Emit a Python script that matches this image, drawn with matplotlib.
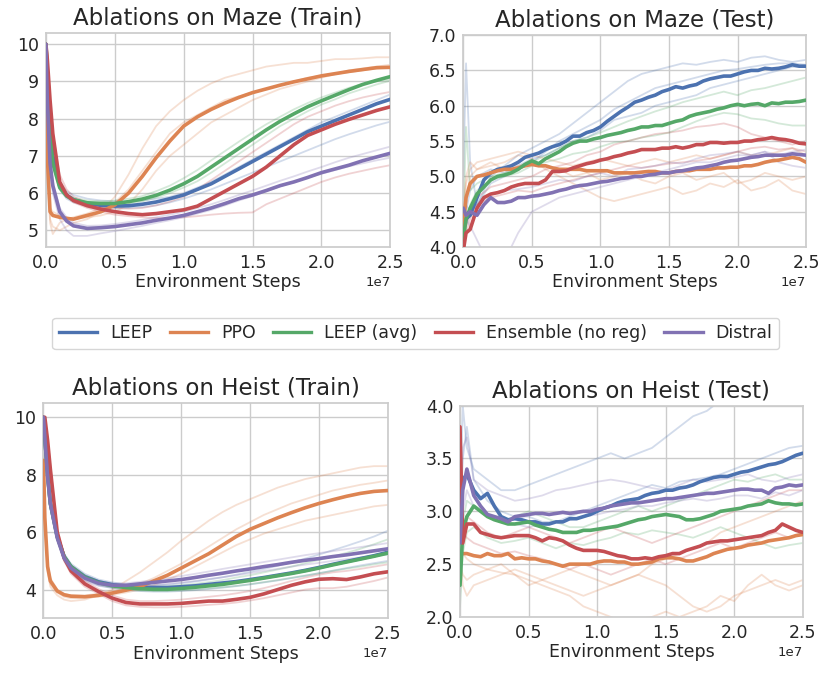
import matplotlib
matplotlib.use("Agg")
import matplotlib.pyplot as plt
from matplotlib.lines import Line2D

plt.rcParams['font.family'] = ['DejaVu Sans']

# ---------------- data ----------------
METHODS = ["LEEP", "PPO", "LEEP (avg)", "Ensemble (no reg)", "Distral"]
COLORS = ["#4C72B0", "#DD8452", "#55A868", "#C44E52", "#8172B3"]

# x positions in units of 1e7 environment steps
TRAIN_STEPS = [0, 0.01, 0.03, 0.05, 0.1, 0.15, 0.2, 0.3, 0.4, 0.5, 0.6, 0.7, 0.8, 0.9, 1.0,
               1.1, 1.2, 1.3, 1.4, 1.5, 1.6, 1.7, 1.8, 1.9, 2.0, 2.1, 2.2, 2.3, 2.4, 2.5]
TEST_STEPS = [0, 0.02, 0.05, 0.1, 0.15, 0.2, 0.25, 0.3, 0.35, 0.4, 0.45, 0.5, 0.55, 0.6, 0.65,
              0.7, 0.75, 0.8, 0.85, 0.9, 0.95, 1.0, 1.05, 1.1, 1.15, 1.2, 1.25, 1.3, 1.35, 1.4,
              1.45, 1.5, 1.55, 1.6, 1.65, 1.7, 1.75, 1.8, 1.85, 1.9, 1.95, 2.0, 2.05, 2.1, 2.15,
              2.2, 2.25, 2.3, 2.35, 2.4, 2.45, 2.5]
TEST_SEED_STEPS = [0, 0.02, 0.05, 0.1, 0.2, 0.3, 0.4, 0.5, 0.6, 0.7, 0.8, 0.9, 1.0, 1.1, 1.2,
                   1.3, 1.4, 1.5, 1.6, 1.7, 1.8, 1.9, 2.0, 2.1, 2.2, 2.3, 2.4, 2.5]

# ---- Maze (Train) ----
maze_train_leep = [10.0, 9.3, 7.8, 7.0, 6.2, 5.95, 5.82, 5.72, 5.67, 5.65, 5.66, 5.7, 5.76, 5.85, 5.95,
                   6.1, 6.25, 6.45, 6.65, 6.85, 7.05, 7.25, 7.45, 7.65, 7.8, 7.95, 8.1, 8.25, 8.4, 8.52]
maze_train_ppo = [8.8, 7.0, 5.5, 5.4, 5.35, 5.32, 5.3, 5.4, 5.5, 5.68, 6.0, 6.45, 6.95, 7.4, 7.8,
                  8.05, 8.25, 8.42, 8.57, 8.7, 8.8, 8.9, 8.99, 9.07, 9.15, 9.21, 9.27, 9.32, 9.37, 9.38]
maze_train_avg = [10.0, 9.2, 7.6, 6.8, 6.15, 5.92, 5.82, 5.74, 5.72, 5.72, 5.77, 5.84, 5.94, 6.08, 6.25,
                  6.45, 6.7, 6.95, 7.2, 7.45, 7.7, 7.93, 8.13, 8.32, 8.48, 8.63, 8.78, 8.92, 9.03, 9.13]
maze_train_ens = [10.0, 9.6, 8.5, 7.6, 6.3, 5.95, 5.8, 5.66, 5.57, 5.5, 5.45, 5.42, 5.45, 5.5, 5.55,
                  5.65, 5.85, 6.05, 6.25, 6.45, 6.7, 7.0, 7.3, 7.55, 7.7, 7.85, 7.98, 8.1, 8.22, 8.32]
maze_train_distral = [10.0, 8.5, 6.8, 6.2, 5.5, 5.25, 5.12, 5.05, 5.07, 5.1, 5.15, 5.2, 5.27, 5.33, 5.4,
                      5.5, 5.6, 5.72, 5.85, 5.95, 6.07, 6.2, 6.3, 6.42, 6.55, 6.65, 6.75, 6.87, 6.97, 7.07]

maze_train_leep_seeds = [
    [10, 9.3, 7.8, 7.0, 6.3, 6.05, 5.95, 5.85, 5.8, 5.78, 5.78, 5.8, 5.85, 5.9, 6.0, 6.15, 6.3, 6.5,
     6.7, 6.9, 7.1, 7.3, 7.5, 7.7, 7.9, 8.05, 8.2, 8.35, 8.5, 8.65],
    [10, 9.2, 7.7, 6.9, 6.1, 5.85, 5.75, 5.65, 5.6, 5.58, 5.6, 5.62, 5.67, 5.75, 5.85, 5.97, 6.1, 6.25,
     6.4, 6.55, 6.7, 6.85, 7.0, 7.15, 7.3, 7.45, 7.58, 7.7, 7.82, 7.92],
]
maze_train_ppo_seeds = [
    [8.5, 6.5, 5.3, 5.1, 5.0, 5.1, 5.2, 5.3, 5.5, 5.9, 6.5, 7.2, 7.8, 8.2, 8.5, 8.75, 8.95, 9.1, 9.2,
     9.3, 9.4, 9.45, 9.5, 9.5, 9.55, 9.6, 9.6, 9.62, 9.65, 9.65],
    [8.0, 6.8, 5.6, 5.5, 5.4, 5.35, 5.3, 5.35, 5.4, 5.5, 5.7, 6.1, 6.6, 7.0, 7.3, 7.6, 7.9, 8.1, 8.3,
     8.5, 8.65, 8.8, 8.9, 9.0, 9.1, 9.2, 9.25, 9.3, 9.35, 9.4],
    [8.6, 6.9, 5.2, 4.9, 5.2, 5.3, 5.35, 5.45, 5.6, 5.75, 6.1, 6.6, 7.1, 7.6, 7.9, 8.1, 8.3, 8.5, 8.6,
     8.7, 8.8, 8.9, 9.0, 9.1, 9.15, 9.2, 9.3, 9.35, 9.4, 9.45],
]
maze_train_avg_seeds = [
    [10, 9.2, 7.6, 6.8, 6.2, 5.95, 5.88, 5.8, 5.78, 5.8, 5.85, 5.92, 6.05, 6.2, 6.4, 6.62, 6.88, 7.13,
     7.38, 7.62, 7.85, 8.05, 8.25, 8.42, 8.57, 8.7, 8.83, 8.93, 9.0, 9.05],
    [10, 9.1, 7.5, 6.7, 6.1, 5.9, 5.78, 5.7, 5.68, 5.68, 5.72, 5.78, 5.88, 6.0, 6.15, 6.32, 6.55, 6.8,
     7.05, 7.3, 7.55, 7.8, 8.0, 8.2, 8.38, 8.52, 8.68, 8.8, 8.92, 9.02],
]
maze_train_ens_seeds = [
    [10, 9.6, 8.4, 7.5, 6.3, 5.9, 5.75, 5.6, 5.5, 5.42, 5.38, 5.35, 5.33, 5.33, 5.35, 5.38, 5.42, 5.45,
     5.47, 5.48, 5.7, 5.85, 6.0, 6.15, 6.3, 6.42, 6.52, 6.6, 6.68, 6.75],
    [10, 9.6, 8.5, 7.6, 6.5, 6.1, 5.9, 5.75, 5.65, 5.6, 5.58, 5.6, 5.67, 5.77, 5.9, 6.1, 6.35, 6.6,
     6.85, 7.1, 7.35, 7.6, 7.85, 8.05, 8.2, 8.35, 8.47, 8.57, 8.65, 8.72],
]
maze_train_distral_seeds = [
    [10, 8.4, 6.6, 6.0, 5.3, 5.0, 4.85, 4.85, 4.92, 4.98, 5.05, 5.12, 5.2, 5.27, 5.35, 5.45, 5.55, 5.67,
     5.8, 5.92, 6.05, 6.18, 6.3, 6.42, 6.52, 6.62, 6.72, 6.8, 6.88, 6.95],
    [10, 8.6, 6.9, 6.3, 5.6, 5.35, 5.2, 5.12, 5.13, 5.17, 5.22, 5.28, 5.35, 5.42, 5.5, 5.6, 5.7, 5.82,
     5.95, 6.07, 6.2, 6.33, 6.45, 6.58, 6.7, 6.83, 6.95, 7.05, 7.15, 7.25],
]

# ---- Maze (Test) ----
maze_test_leep = [4.3, 4.4, 4.45, 4.7, 4.95, 5.05, 5.1, 5.12, 5.15, 5.2, 5.27, 5.3, 5.33, 5.38, 5.42,
                  5.45, 5.5, 5.57, 5.57, 5.62, 5.65, 5.7, 5.78, 5.85, 5.92, 5.98, 6.05, 6.08, 6.12, 6.15,
                  6.2, 6.23, 6.27, 6.25, 6.28, 6.3, 6.35, 6.38, 6.4, 6.42, 6.42, 6.45, 6.48, 6.5, 6.5,
                  6.53, 6.52, 6.53, 6.55, 6.58, 6.56, 6.56]
maze_test_ppo = [4.3, 4.7, 4.9, 5.0, 5.02, 5.05, 5.08, 5.1, 5.1, 5.12, 5.15, 5.17, 5.15, 5.15, 5.12,
                 5.1, 5.1, 5.1, 5.1, 5.08, 5.08, 5.08, 5.08, 5.05, 5.05, 5.05, 5.05, 5.06, 5.07, 5.07,
                 5.05, 5.05, 5.07, 5.08, 5.08, 5.1, 5.1, 5.1, 5.12, 5.12, 5.13, 5.13, 5.15, 5.15, 5.17,
                 5.2, 5.22, 5.23, 5.25, 5.27, 5.25, 5.2]
maze_test_avg = [4.1, 4.4, 4.55, 4.75, 4.85, 4.95, 5.0, 5.02, 5.05, 5.1, 5.17, 5.22, 5.18, 5.25, 5.3,
                 5.35, 5.42, 5.47, 5.5, 5.5, 5.53, 5.55, 5.58, 5.6, 5.62, 5.65, 5.67, 5.7, 5.7, 5.72,
                 5.72, 5.75, 5.78, 5.8, 5.85, 5.88, 5.9, 5.92, 5.95, 5.97, 6.0, 6.02, 6.0, 6.02, 6.03,
                 6.0, 6.04, 6.03, 6.05, 6.05, 6.06, 6.08]
maze_test_ens = [3.95, 4.2, 4.25, 4.55, 4.7, 4.75, 4.77, 4.8, 4.85, 4.88, 4.9, 4.9, 4.9, 4.95, 5.07,
                 5.07, 5.08, 5.12, 5.15, 5.18, 5.2, 5.23, 5.25, 5.28, 5.3, 5.33, 5.35, 5.38, 5.38, 5.38,
                 5.4, 5.4, 5.42, 5.4, 5.42, 5.45, 5.45, 5.48, 5.48, 5.47, 5.48, 5.48, 5.5, 5.5, 5.52,
                 5.53, 5.55, 5.53, 5.52, 5.5, 5.47, 5.46]
maze_test_distral = [4.55, 4.45, 4.5, 4.45, 4.6, 4.7, 4.63, 4.63, 4.65, 4.7, 4.7, 4.72, 4.73, 4.75, 4.77,
                     4.8, 4.82, 4.85, 4.87, 4.88, 4.9, 4.92, 4.93, 4.95, 4.97, 4.98, 5.0, 5.0, 5.02, 5.03,
                     5.05, 5.05, 5.07, 5.08, 5.1, 5.12, 5.13, 5.15, 5.17, 5.2, 5.22, 5.23, 5.25, 5.27,
                     5.28, 5.3, 5.3, 5.3, 5.3, 5.32, 5.31, 5.3]

maze_test_leep_seeds = [
    [5.0, 6.6, 5.2, 4.6, 5.0, 5.15, 5.3, 5.4, 5.5, 5.6, 5.75, 5.9, 6.05, 6.2, 6.35, 6.45, 6.5, 6.55,
     6.6, 6.58, 6.62, 6.65, 6.62, 6.68, 6.7, 6.65, 6.62, 6.65],
    [4.2, 4.5, 4.8, 5.0, 5.1, 5.05, 5.15, 5.25, 5.3, 5.4, 5.5, 5.55, 5.65, 5.8, 5.85, 5.9, 6.0, 6.05,
     6.1, 6.15, 6.25, 6.3, 6.35, 6.4, 6.45, 6.5, 6.55, 6.55],
    [4.5, 4.3, 4.5, 4.6, 4.9, 5.0, 5.1, 5.2, 5.35, 5.5, 5.6, 5.7, 5.8, 5.95, 6.05, 6.15, 6.25, 6.3,
     6.35, 6.4, 6.45, 6.5, 6.52, 6.55, 6.58, 6.6, 6.6, 6.58],
]
maze_test_ppo_seeds = [
    [4.5, 5.0, 5.2, 5.1, 5.15, 5.2, 5.3, 5.25, 5.1, 5.0, 4.9, 4.8, 4.7, 4.65, 4.7, 4.75, 4.8, 4.85,
     4.75, 4.8, 4.9, 4.85, 4.95, 4.8, 4.85, 4.95, 4.8, 4.75],
    [4.2, 4.6, 5.0, 5.1, 5.2, 5.1, 5.15, 5.2, 5.15, 5.1, 5.0, 5.05, 4.95, 5.0, 5.05, 4.95, 4.9, 5.0,
     5.05, 4.95, 5.0, 5.05, 4.9, 4.95, 5.05, 5.0, 4.95, 5.0],
    [4.4, 4.9, 5.1, 5.2, 5.25, 5.3, 5.35, 5.3, 5.25, 5.2, 5.15, 5.2, 5.25, 5.2, 5.15, 5.2, 5.25, 5.2,
     5.25, 5.3, 5.25, 5.3, 5.35, 5.3, 5.3, 5.35, 5.4, 5.3],
]
maze_test_avg_seeds = [
    [4.3, 5.7, 4.8, 4.9, 5.0, 5.05, 5.1, 5.2, 5.3, 5.4, 5.5, 5.55, 5.62, 5.7, 5.78, 5.85, 5.92, 5.98,
     6.05, 6.1, 6.15, 6.2, 6.15, 6.22, 6.25, 6.3, 6.35, 6.4],
    [4.0, 4.3, 4.6, 4.8, 4.95, 5.0, 5.05, 5.15, 5.2, 5.25, 5.32, 5.35, 5.42, 5.48, 5.5, 5.55, 5.58,
     5.62, 5.7, 5.78, 5.85, 5.9, 5.88, 5.82, 5.8, 5.75, 5.72, 5.72],
]
maze_test_ens_seeds = [
    [4.0, 4.3, 4.5, 4.7, 4.85, 4.9, 4.95, 5.0, 5.1, 5.15, 5.2, 5.3, 5.35, 5.45, 5.5, 5.55, 5.6, 5.62,
     5.65, 5.7, 5.72, 5.75, 5.7, 5.6, 5.55, 5.5, 5.45, 5.5],
    [3.9, 4.2, 4.4, 4.6, 4.7, 4.75, 4.8, 4.78, 4.85, 4.9, 4.95, 5.0, 5.05, 5.1, 5.15, 5.12, 5.15, 5.18,
     5.2, 5.22, 5.25, 5.3, 5.35, 5.4, 5.42, 5.38, 5.4, 5.35],
]
maze_test_distral_seeds = [
    [4.6, 4.4, 4.3, 4.1, 3.7, 3.8, 4.2, 4.5, 4.6, 4.7, 4.75, 4.8, 4.85, 4.9, 4.95, 5.0, 5.05, 5.1,
     5.15, 5.2, 5.2, 5.25, 5.3, 5.3, 5.35, 5.3, 5.35, 5.38],
    [4.5, 4.6, 4.5, 4.6, 4.75, 4.8, 4.82, 4.85, 4.9, 4.95, 4.93, 5.0, 5.05, 5.0, 5.1, 5.12, 5.15, 5.2,
     5.18, 5.25, 5.3, 5.32, 5.35, 5.3, 5.35, 5.2, 5.15, 5.12],
]

# ---- Heist (Train) ----
heist_train_leep = [10, 9.3, 8.0, 7.0, 5.85, 5.15, 4.8, 4.45, 4.27, 4.17, 4.12, 4.08, 4.07, 4.07, 4.1,
                    4.13, 4.18, 4.23, 4.28, 4.35, 4.42, 4.5, 4.58, 4.67, 4.77, 4.88, 4.98, 5.08, 5.18, 5.3]
heist_train_ppo = [8.5, 6.5, 4.8, 4.3, 3.95, 3.82, 3.77, 3.75, 3.8, 3.88, 3.98, 4.1, 4.3, 4.5, 4.75,
                   5.0, 5.25, 5.55, 5.85, 6.1, 6.3, 6.5, 6.68, 6.85, 7.0, 7.13, 7.25, 7.35, 7.42, 7.45]
heist_train_avg = [10, 9.3, 8.0, 7.0, 5.85, 5.15, 4.8, 4.43, 4.24, 4.13, 4.07, 4.03, 4.01, 4.01, 4.04,
                   4.08, 4.13, 4.18, 4.25, 4.32, 4.4, 4.48, 4.56, 4.65, 4.75, 4.86, 4.96, 5.06, 5.16, 5.27]
heist_train_ens = [10, 10, 9.2, 8.2, 6.0, 5.1, 4.65, 4.2, 3.93, 3.7, 3.55, 3.5, 3.5, 3.5, 3.52,
                   3.56, 3.6, 3.6, 3.66, 3.73, 3.85, 4.0, 4.15, 4.27, 4.36, 4.38, 4.35, 4.44, 4.55, 4.62]
heist_train_distral = [10, 9.3, 7.9, 7.0, 5.8, 5.1, 4.75, 4.4, 4.22, 4.15, 4.15, 4.2, 4.25, 4.3, 4.35,
                       4.42, 4.5, 4.57, 4.65, 4.72, 4.8, 4.87, 4.95, 5.02, 5.08, 5.15, 5.21, 5.28, 5.35, 5.42]

heist_train_leep_seeds = [
    [10, 9.3, 8.0, 7.1, 5.95, 5.25, 4.9, 4.55, 4.35, 4.25, 4.18, 4.15, 4.15, 4.17, 4.22, 4.28, 4.35,
     4.43, 4.52, 4.62, 4.72, 4.83, 4.95, 5.08, 5.22, 5.37, 5.52, 5.68, 5.85, 6.05],
    [10, 9.2, 7.9, 6.9, 5.75, 5.05, 4.7, 4.35, 4.15, 4.05, 3.98, 3.95, 3.93, 3.93, 3.95, 3.98, 4.02,
     4.07, 4.12, 4.18, 4.25, 4.32, 4.4, 4.48, 4.57, 4.66, 4.75, 4.84, 4.92, 5.0],
]
heist_train_ppo_seeds = [
    [8.3, 6.3, 4.6, 4.1, 3.8, 3.65, 3.6, 3.65, 3.8, 4.0, 4.3, 4.6, 4.95, 5.3, 5.7, 6.05, 6.4, 6.7,
     6.95, 7.15, 7.35, 7.55, 7.7, 7.85, 7.95, 8.05, 8.15, 8.25, 8.3, 8.3],
    [8.0, 6.6, 4.9, 4.4, 4.0, 3.85, 3.8, 3.8, 3.85, 3.95, 4.05, 4.2, 4.4, 4.65, 4.9, 5.2, 5.5, 5.8,
     6.1, 6.35, 6.6, 6.8, 7.0, 7.15, 7.3, 7.45, 7.55, 7.65, 7.72, 7.8],
    [8.6, 6.4, 4.7, 4.2, 3.9, 3.75, 3.7, 3.72, 3.75, 3.82, 3.9, 4.0, 4.15, 4.35, 4.55, 4.8, 5.05, 5.3,
     5.55, 5.75, 5.95, 6.1, 6.25, 6.4, 6.5, 6.6, 6.7, 6.8, 6.9, 6.95],
]
heist_train_avg_seeds = [
    [10, 9.3, 8.0, 7.0, 5.9, 5.2, 4.85, 4.5, 4.3, 4.2, 4.13, 4.1, 4.1, 4.12, 4.15, 4.2, 4.26, 4.33,
     4.42, 4.5, 4.6, 4.7, 4.8, 4.92, 5.03, 5.15, 5.28, 5.42, 5.58, 5.75],
    [10, 9.2, 7.9, 6.9, 5.8, 5.1, 4.75, 4.38, 4.18, 4.07, 4.0, 3.97, 3.95, 3.95, 3.97, 4.0, 4.04, 4.08,
     4.13, 4.19, 4.26, 4.33, 4.41, 4.49, 4.57, 4.65, 4.73, 4.8, 4.88, 4.95],
]
heist_train_ens_seeds = [
    [10, 10, 9.0, 8.0, 5.9, 5.0, 4.55, 4.1, 3.85, 3.6, 3.45, 3.4, 3.38, 3.38, 3.4, 3.43, 3.47, 3.5,
     3.55, 3.62, 3.7, 3.8, 3.9, 4.0, 4.05, 4.05, 4.1, 4.2, 4.3, 4.42],
    [10, 10, 9.3, 8.3, 6.1, 5.2, 4.75, 4.3, 4.02, 3.8, 3.65, 3.6, 3.6, 3.62, 3.65, 3.7, 3.75, 3.8,
     3.87, 3.95, 4.05, 4.17, 4.3, 4.42, 4.52, 4.6, 4.65, 4.72, 4.8, 4.88],
]
heist_train_distral_seeds = [
    [10, 9.3, 8.0, 7.1, 5.9, 5.2, 4.85, 4.5, 4.3, 4.22, 4.22, 4.27, 4.33, 4.4, 4.47, 4.55, 4.63, 4.72,
     4.8, 4.88, 4.96, 5.04, 5.12, 5.2, 5.27, 5.34, 5.41, 5.48, 5.55, 5.62],
    [10, 9.2, 7.8, 6.9, 5.7, 5.0, 4.65, 4.3, 4.13, 4.07, 4.07, 4.1, 4.15, 4.2, 4.25, 4.3, 4.37, 4.43,
     4.5, 4.57, 4.65, 4.72, 4.8, 4.87, 4.93, 5.0, 5.06, 5.12, 5.18, 5.22],
]

# ---- Heist (Test) ----
heist_test_leep = [2.9, 3.3, 3.35, 3.2, 3.12, 3.17, 3.05, 2.95, 2.92, 2.93, 2.92, 2.9, 2.9, 2.88, 2.88,
                   2.9, 2.9, 2.93, 2.93, 2.95, 2.97, 3.0, 3.03, 3.05, 3.08, 3.1, 3.11, 3.12, 3.15, 3.17,
                   3.18, 3.2, 3.2, 3.22, 3.23, 3.25, 3.28, 3.3, 3.32, 3.33, 3.33, 3.35, 3.37, 3.38, 3.4,
                   3.42, 3.44, 3.45, 3.47, 3.5, 3.53, 3.55]
heist_test_ppo = [2.6, 2.6, 2.6, 2.58, 2.57, 2.6, 2.58, 2.58, 2.6, 2.55, 2.56, 2.55, 2.55, 2.53, 2.52,
                  2.5, 2.48, 2.5, 2.5, 2.5, 2.5, 2.52, 2.53, 2.53, 2.52, 2.52, 2.5, 2.5, 2.51, 2.52,
                  2.55, 2.56, 2.56, 2.55, 2.53, 2.53, 2.55, 2.57, 2.6, 2.62, 2.64, 2.65, 2.66, 2.68,
                  2.69, 2.7, 2.72, 2.73, 2.74, 2.75, 2.77, 2.78]
heist_test_avg = [2.3, 2.8, 2.95, 3.05, 3.0, 2.95, 2.92, 2.9, 2.88, 2.88, 2.89, 2.9, 2.87, 2.85, 2.83,
                  2.82, 2.8, 2.8, 2.8, 2.82, 2.82, 2.83, 2.84, 2.85, 2.86, 2.88, 2.9, 2.92, 2.93, 2.95,
                  2.96, 2.97, 2.96, 2.95, 2.92, 2.92, 2.93, 2.95, 2.97, 3.0, 3.01, 3.02, 3.03, 3.05,
                  3.06, 3.07, 3.1, 3.08, 3.07, 3.07, 3.06, 3.07]
heist_test_ens = [3.8, 2.7, 2.88, 2.88, 2.8, 2.78, 2.76, 2.75, 2.76, 2.77, 2.77, 2.77, 2.75, 2.72, 2.75,
                  2.74, 2.72, 2.68, 2.65, 2.63, 2.63, 2.63, 2.62, 2.6, 2.58, 2.57, 2.55, 2.55, 2.56, 2.55,
                  2.57, 2.58, 2.6, 2.6, 2.63, 2.65, 2.67, 2.7, 2.71, 2.72, 2.72, 2.73, 2.74, 2.75, 2.76,
                  2.77, 2.8, 2.82, 2.88, 2.85, 2.82, 2.8]
heist_test_distral = [2.7, 3.2, 3.4, 3.15, 3.05, 2.97, 2.95, 2.93, 2.9, 2.95, 2.96, 2.97, 2.98, 2.98,
                      2.97, 2.98, 2.99, 2.98, 2.99, 3.0, 3.0, 3.02, 3.03, 3.05, 3.06, 3.07, 3.08, 3.08,
                      3.09, 3.1, 3.11, 3.12, 3.12, 3.13, 3.14, 3.15, 3.16, 3.17, 3.17, 3.18, 3.19, 3.2,
                      3.21, 3.21, 3.2, 3.2, 3.17, 3.22, 3.23, 3.25, 3.24, 3.25]

heist_test_leep_seeds = [
    [3.0, 4.0, 3.6, 3.4, 3.3, 3.2, 3.2, 3.25, 3.3, 3.35, 3.4, 3.45, 3.5, 3.55, 3.5, 3.55, 3.6, 3.7,
     3.8, 3.9, 3.95, 4.05, 4.1, 4.15, 4.2, 4.25, 4.3, 4.35],
    [2.8, 3.5, 3.8, 3.3, 3.1, 3.0, 2.95, 2.95, 2.9, 2.9, 2.95, 3.0, 3.05, 3.1, 3.15, 3.2, 3.25, 3.22,
     3.28, 3.3, 3.32, 3.35, 3.4, 3.45, 3.5, 3.55, 3.6, 3.62],
]
heist_test_ppo_seeds = [
    [2.5, 2.4, 2.35, 2.4, 2.45, 2.5, 2.4, 2.35, 2.3, 2.25, 2.2, 2.1, 2.05, 2.0, 1.95, 1.98, 2.0, 2.05,
     2.0, 2.05, 2.1, 2.2, 2.15, 2.3, 2.4, 2.3, 2.25, 2.3],
    [2.6, 2.3, 2.2, 2.3, 2.35, 2.4, 2.45, 2.4, 2.35, 2.4, 2.45, 2.4, 2.35, 2.3, 2.35, 2.4, 2.5, 2.55,
     2.6, 2.65, 2.7, 2.8, 2.85, 2.9, 2.95, 3.0, 3.05, 3.1],
    [2.5, 2.6, 2.55, 2.5, 2.45, 2.42, 2.4, 2.3, 2.35, 2.3, 2.25, 2.2, 2.25, 2.3, 2.35, 2.4, 2.35, 2.3,
     2.2, 2.1, 2.05, 2.1, 2.2, 2.25, 2.3, 2.35, 2.3, 2.35],
]
heist_test_avg_seeds = [
    [2.2, 2.9, 3.1, 3.05, 2.95, 2.9, 2.95, 3.0, 2.95, 2.9, 2.85, 2.85, 2.9, 2.95, 3.0, 3.05, 3.0, 3.05,
     3.1, 3.15, 3.2, 3.25, 3.3, 3.28, 3.32, 3.35, 3.3, 3.3],
    [2.1, 2.6, 2.8, 2.85, 2.75, 2.7, 2.72, 2.75, 2.7, 2.65, 2.7, 2.68, 2.72, 2.75, 2.8, 2.78, 2.82, 2.8,
     2.78, 2.75, 2.8, 2.85, 2.8, 2.75, 2.7, 2.65, 2.68, 2.7],
]
heist_test_ens_seeds = [
    [2.5, 2.9, 2.95, 2.9, 2.8, 2.75, 2.8, 2.85, 2.8, 2.75, 2.7, 2.75, 2.8, 2.85, 2.8, 2.75, 2.7, 2.75,
     2.8, 2.85, 2.9, 2.95, 3.0, 3.05, 3.1, 3.15, 3.2, 3.2],
    [2.7, 2.8, 2.75, 2.7, 2.65, 2.6, 2.62, 2.58, 2.55, 2.5, 2.45, 2.5, 2.45, 2.4, 2.45, 2.5, 2.55, 2.5,
     2.55, 2.6, 2.65, 2.7, 2.65, 2.7, 2.75, 2.8, 2.75, 2.8],
]
heist_test_distral_seeds = [
    [2.8, 3.6, 3.7, 3.3, 3.2, 3.15, 3.1, 3.12, 3.15, 3.2, 3.22, 3.25, 3.28, 3.3, 3.28, 3.25, 3.22, 3.2,
     3.25, 3.3, 3.28, 3.3, 3.32, 3.35, 3.3, 3.28, 3.32, 3.35],
    [2.6, 3.0, 3.2, 3.05, 2.95, 2.9, 2.88, 2.85, 2.88, 2.9, 2.92, 2.95, 2.97, 3.0, 3.02, 3.05, 3.05,
     3.08, 3.1, 3.12, 3.1, 3.12, 3.15, 3.15, 3.12, 3.18, 3.15, 3.2],
]

TITLES = ["Ablations on Maze (Train)", "Ablations on Maze (Test)",
          "Ablations on Heist (Train)", "Ablations on Heist (Test)"]
XLABEL = "Environment Steps"

# ---------------- figure ----------------
TEXT = "#262626"
GRID = "#cccccc"
fig = plt.figure(figsize=(8.2, 6.75), dpi=100)

rects = [
    [0.056, 0.634, 0.420, 0.317],
    [0.565, 0.634, 0.418, 0.314],
    [0.053, 0.084, 0.420, 0.319],
    [0.561, 0.086, 0.418, 0.313],
]

panels = [
    dict(steps=TRAIN_STEPS, seed_steps=TRAIN_STEPS,
         mains=[maze_train_leep, maze_train_ppo, maze_train_avg, maze_train_ens, maze_train_distral],
         seeds=[maze_train_leep_seeds, maze_train_ppo_seeds, maze_train_avg_seeds,
                maze_train_ens_seeds, maze_train_distral_seeds],
         ylim=(4.55, 10.3), yticks=[5, 6, 7, 8, 9, 10], yfmt="{:.0f}"),
    dict(steps=TEST_STEPS, seed_steps=TEST_SEED_STEPS,
         mains=[maze_test_leep, maze_test_ppo, maze_test_avg, maze_test_ens, maze_test_distral],
         seeds=[maze_test_leep_seeds, maze_test_ppo_seeds, maze_test_avg_seeds,
                maze_test_ens_seeds, maze_test_distral_seeds],
         ylim=(4.0, 7.0), yticks=[4.0, 4.5, 5.0, 5.5, 6.0, 6.5, 7.0], yfmt="{:.1f}"),
    dict(steps=TRAIN_STEPS, seed_steps=TRAIN_STEPS,
         mains=[heist_train_leep, heist_train_ppo, heist_train_avg, heist_train_ens, heist_train_distral],
         seeds=[heist_train_leep_seeds, heist_train_ppo_seeds, heist_train_avg_seeds,
                heist_train_ens_seeds, heist_train_distral_seeds],
         ylim=(3.0, 10.5), yticks=[4, 6, 8, 10], yfmt="{:.0f}"),
    dict(steps=TEST_STEPS, seed_steps=TEST_SEED_STEPS,
         mains=[heist_test_leep, heist_test_ppo, heist_test_avg, heist_test_ens, heist_test_distral],
         seeds=[heist_test_leep_seeds, heist_test_ppo_seeds, heist_test_avg_seeds,
                heist_test_ens_seeds, heist_test_distral_seeds],
         ylim=(2.0, 4.0), yticks=[2.0, 2.5, 3.0, 3.5, 4.0], yfmt="{:.1f}"),
]

for rect, title, p in zip(rects, TITLES, panels):
    ax = fig.add_axes(rect)
    ax.set_facecolor("white")
    for s in ax.spines.values():
        s.set_color(GRID)
        s.set_linewidth(1.25)
    ax.grid(True, color=GRID, linewidth=1.0)
    ax.set_axisbelow(True)

    xs_seed = [v * 1e7 for v in p["seed_steps"]]
    xs = [v * 1e7 for v in p["steps"]]
    for color, seedset in zip(COLORS, p["seeds"]):
        for s in seedset:
            ax.plot(xs_seed, s, color=color, lw=1.3, alpha=0.25, zorder=2)
    for color, m in zip(COLORS, p["mains"]):
        ax.plot(xs, m, color=color, lw=2.6, zorder=3, solid_capstyle="round")

    ax.set_xlim(0, 2.5e7)
    ax.set_ylim(*p["ylim"])
    ax.set_xticks([0, 0.5e7, 1.0e7, 1.5e7, 2.0e7, 2.5e7])
    ax.set_yticks(p["yticks"])
    ax.set_yticklabels([p["yfmt"].format(v) for v in p["yticks"]])
    ax.tick_params(axis="both", length=0, pad=5, labelsize=12.5, labelcolor=TEXT)
    ax.xaxis.get_offset_text().set_fontsize(9.5)
    ax.xaxis.get_offset_text().set_color(TEXT)
    ax.set_xlabel(XLABEL, fontsize=12.5, color=TEXT, labelpad=1)
    ax.set_title(title, fontsize=16.5, color=TEXT, pad=6)

handles = [Line2D([0], [0], color=c, lw=2.4) for c in COLORS]
leg = fig.legend(handles, METHODS, loc="center", bbox_to_anchor=(0.507, 0.506), ncol=5,
                 fontsize=12.5, frameon=True, handlelength=2.2, columnspacing=1.0,
                 handletextpad=0.75, borderpad=0.4)
leg.get_frame().set_edgecolor(GRID)
leg.get_frame().set_linewidth(1.0)
for t in leg.get_texts():
    t.set_color(TEXT)

fig.savefig("out.png", dpi=100)
